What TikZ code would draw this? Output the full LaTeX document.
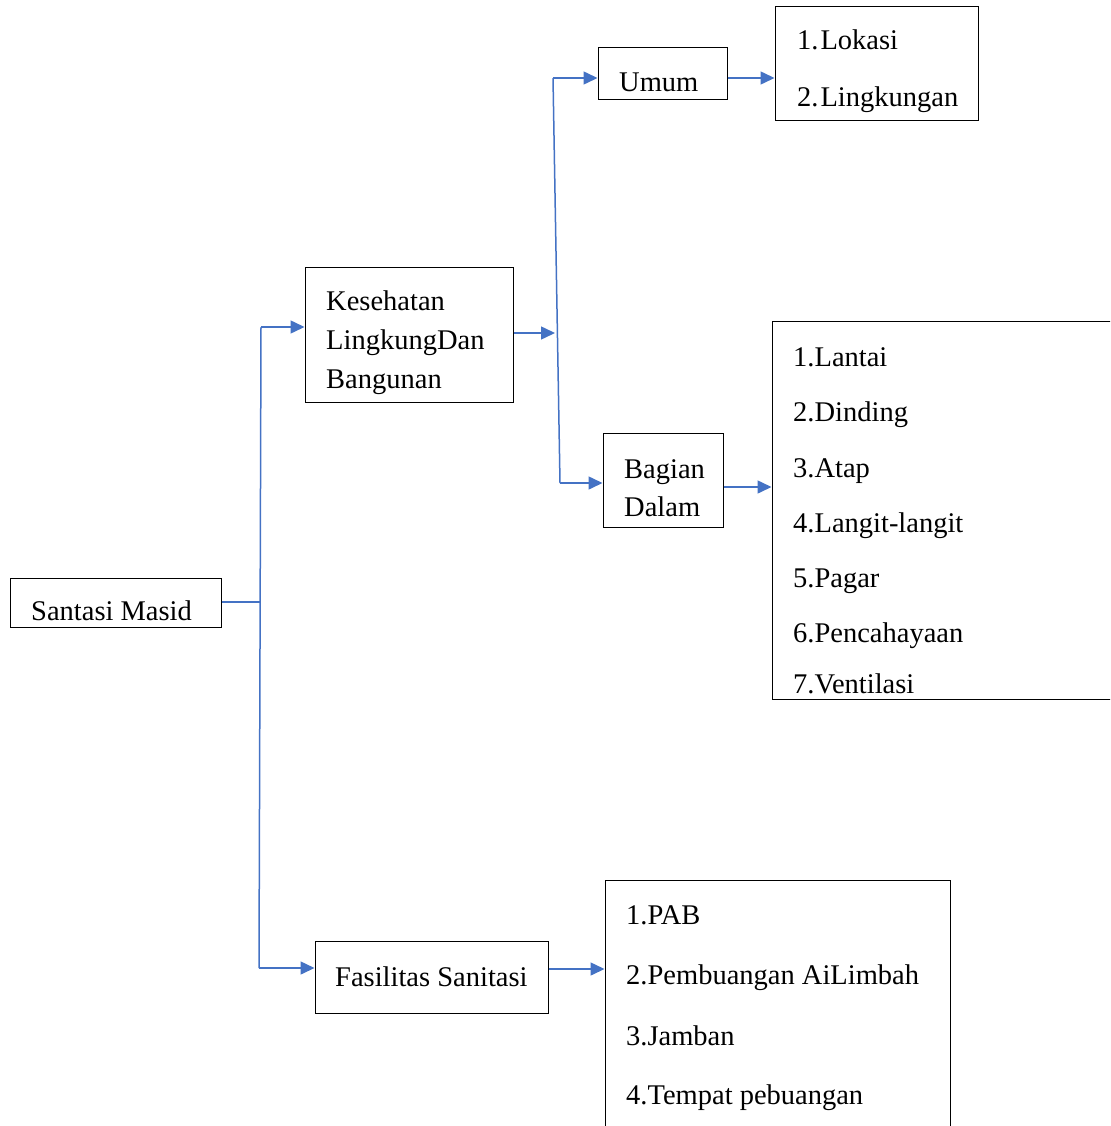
\documentclass[tikz,border=0pt]{standalone}
\usepackage{fontspec}
\setmainfont{Liberation Serif}
\usetikzlibrary{arrows.meta}
\definecolor{conn}{HTML}{4472C4}
\begin{document}
\begin{tikzpicture}[x=1pt,y=-1pt,
  box/.style={draw=black,line width=1pt,inner sep=0pt},
  txt/.style={anchor=base west,inner sep=0pt,font=\fontsize{28.5}{34}\selectfont},
  link/.style={draw=conn,line width=1.5pt},
  arr/.style={link,-{Triangle[length=14pt,width=13pt]}}]
\useasboundingbox (0,0) rectangle (1110,1126);
\clip (0,0) rectangle (1110,1126);
% boxes
\node[box,minimum width=211pt,minimum height=49pt] (santasi) at (115.5,602.5) {};
\node[box,minimum width=208pt,minimum height=135pt] (kes) at (409,334.5) {};
\node[box,minimum width=129pt,minimum height=52pt] (umum) at (662.5,74) {};
\node[box,minimum width=203pt,minimum height=114pt] (lok) at (876.5,64) {};
\node[box,minimum width=120pt,minimum height=94pt] (bag) at (663,480) {};
\node[box,minimum width=340pt,minimum height=378pt] (dalam) at (942,510) {};
\node[box,minimum width=233pt,minimum height=72pt] (fas) at (431.5,977) {};
\node[box,minimum width=345pt,minimum height=280pt] (fasl) at (777.5,1020) {};
% texts
\node[txt] (t1) at (31,620) {Santasi Masid};
\node[txt] (t2) at (326,310) {Kesehatan};
\node[txt] (t3) at (326,349) {LingkungDan};
\node[txt] (t4) at (326,388) {Bangunan};
\node[txt] (t5) at (619,92) {Umum};
\node[txt] (t6) at (797,50) {1.\kern2pt Lokasi};
\node[txt] (t7) at (797,107) {2.\kern2pt Lingkungan};
\node[txt] (t8) at (624,478) {Bagian};
\node[txt] (t9) at (624,516) {Dalam};
\node[txt] (l1) at (793,366) {1.Lantai};
\node[txt] (l2) at (793,421) {2.Dinding};
\node[txt] (l3) at (793,477) {3.Atap};
\node[txt] (l4) at (793,532) {4.Langit-langit};
\node[txt] (l5) at (793,587) {5.Pagar};
\node[txt] (l6) at (793,642) {6.Pencahayaan};
\node[txt] (l7) at (793,693) {7.Ventilasi};
\node[txt] (t10) at (335,986) {Fasilitas Sanitasi};
\node[txt] (f1) at (626,924) {1.PAB};
\node[txt] (f2) at (626,984) {2.Pembuangan AiLimbah};
\node[txt] (f3) at (626,1045) {3.Jamban};
\node[txt] (f4) at (626,1104) {4.Tempat pebuangan};
% junction coordinates
\coordinate (ja) at (260,602);
\coordinate (jatop) at (261,327);
\coordinate (jabot) at (259,968);
\coordinate (jb) at (555,333);
\coordinate (jbtop) at (553,78);
\coordinate (jbbot) at (560,483);
% connectors
\draw[link] (santasi.east |- ja) -- (ja);
\draw[link] (jatop) -- (jabot);
\draw[arr] (jatop) -- (kes.west |- jatop);
\draw[arr] (jabot) -- (fas.west |- jabot);
\draw[arr] (kes.east |- jb) -- (jb);
\draw[link] (jbtop) -- (jbbot);
\draw[arr] (jbtop) -- (umum.west |- jbtop);
\draw[arr] (jbbot) -- (bag.west |- jbbot);
\draw[arr] (umum.east |- jbtop) -- (lok.west |- jbtop);
\draw[arr] (bag.east |- 0,487) -- (dalam.west |- 0,487);
\draw[arr] (fas.east |- 0,969) -- (fasl.west |- 0,969);
\end{tikzpicture}
\end{document}
